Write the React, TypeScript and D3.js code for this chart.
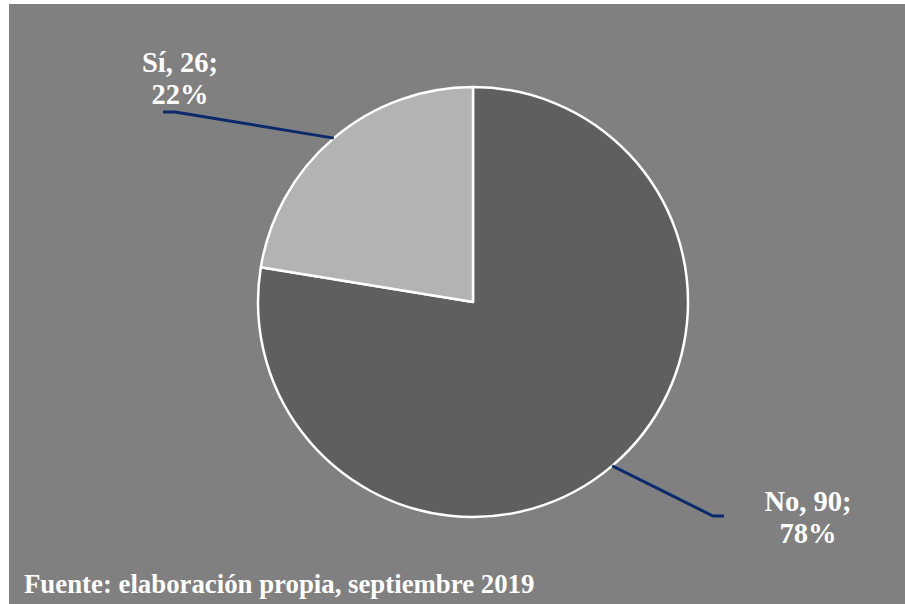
import React from "react";
import * as d3 from "d3";

const categories = ["No", "Sí"];
const values = [90, 26];
const percents = ["78%", "22%"];
const footer = "Fuente: elaboración propia, septiembre 2019";

const W = 905;
const H = 604;
const cx = 473;
const cy = 302;
const R = 215;
const fills = ["#5f5f5f", "#b3b3b3"];
const font = "'Liberation Serif', 'Times New Roman', serif";

export default function App() {
  const pie = d3.pie<number>().sort(null).value((d) => d);
  const arcs = pie(values);
  const arcGen = d3.arc<d3.PieArcDatum<number>>().innerRadius(0).outerRadius(R);

  const leader = (a: d3.PieArcDatum<number>, frac: number, elbow: [number, number], endX: number) => {
    const ang = a.startAngle + (a.endAngle - a.startAngle) * frac;
    const p: [number, number] = [cx + R * Math.sin(ang), cy - R * Math.cos(ang)];
    return d3.line()([p, elbow, [endX, elbow[1]]]);
  };

  const labelPos: [number, number][] = [
    [808, 511],
    [180, 72],
  ];
  const leaders = [
    leader(arcs[0], 0.5, [713, 516], 724),
    leader(arcs[1], 0.5, [175, 112], 163),
  ];

  return (
    <svg width={W} height={H} style={{ position: "absolute", left: 0, top: 0 }}>
      <rect x={9} y={4} width={W - 9} height={H - 4} fill="#808080" />
      <g transform={`translate(${cx},${cy})`}>
        {arcs.map((a, i) => (
          <path key={i} d={arcGen(a) || ""} fill={fills[i]} stroke="#ffffff" strokeWidth={2.5} strokeLinejoin="round" />
        ))}
      </g>
      {leaders.map((d, i) => (
        <path key={i} d={d || ""} fill="none" stroke="#0b2a6b" strokeWidth={3} />
      ))}
      {categories.map((c, i) => (
        <text key={c} x={labelPos[i][0]} y={labelPos[i][1]} textAnchor="middle" fill="#ffffff" fontFamily={font} fontWeight="bold" fontSize={28.5}>
          <tspan x={labelPos[i][0]}>{`${c}, ${values[i]};`}</tspan>
          <tspan x={labelPos[i][0]} dy={32}>{percents[i]}</tspan>
        </text>
      ))}
      <text x={24} y={593} fill="#ffffff" fontFamily={font} fontWeight="bold" fontSize={26.8}>
        {footer}
      </text>
    </svg>
  );
}
